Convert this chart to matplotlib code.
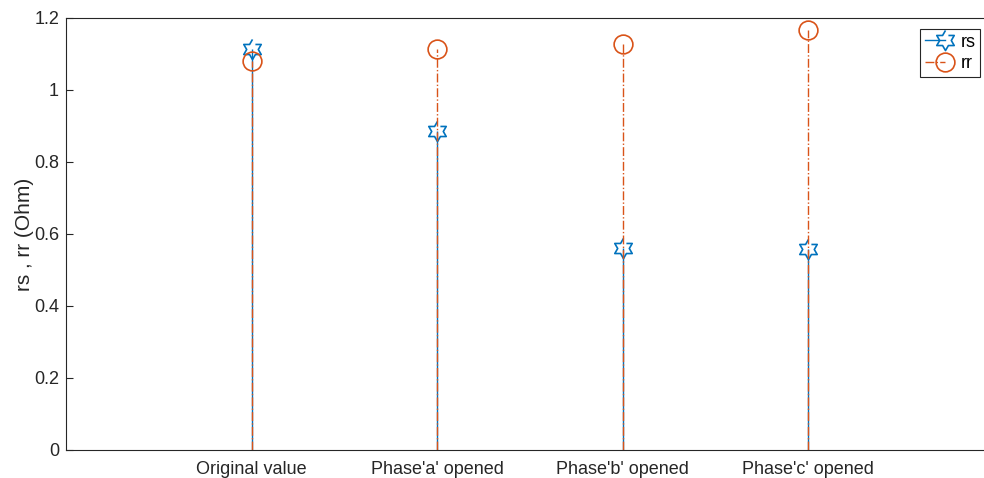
import numpy as np
import matplotlib
matplotlib.use('Agg')
import matplotlib.pyplot as plt
from matplotlib.legend_handler import HandlerLine2D

cases = ["Original value", "Phase'a' opened", "Phase'b' opened", "Phase'c' opened"]
rs = [1.115, 0.885, 0.562, 0.559]
rr = [1.081, 1.114, 1.128, 1.167]

plt.rcParams['font.family'] = ['Liberation Sans', 'DejaVu Sans']

# six-pointed star (hexagram) marker like matlab's 'h'
ang = np.pi / 2 + np.arange(12) * np.pi / 6
rad = np.where(np.arange(12) % 2 == 0, 1.0, 1 / np.sqrt(3))
hexagram = list(zip(rad * np.cos(ang), rad * np.sin(ang)))

blue = '#0072BD'
orange = '#D95319'


class EndMarker(HandlerLine2D):
    # legend line stops at the marker, as matlab draws it
    def create_artists(self, *args, **kwargs):
        arts = super().create_artists(*args, **kwargs)
        for a in arts:
            xd = np.asarray(a.get_xdata(), float)
            if len(xd) == 3:
                a.set_xdata([xd[0], xd[2], xd[2]])
        return arts


fig = plt.figure(figsize=(9.84, 4.78), dpi=100)
ax = fig.add_axes([66 / 984, 1 - 450 / 478, 927.5 / 984, 432 / 478])

x = np.arange(1, len(cases) + 1)

ax.vlines(x, 0, rs, colors=blue, lw=1.0, linestyles='-')
ax.plot(x, rs, ls='none', marker=hexagram, ms=14.5, mfc='none', mec=blue, mew=1.2)
ax.vlines(x, 0, rr, colors=orange, lw=1.0, linestyles='-.')
ax.plot(x, rr, ls='none', marker='o', ms=13.5, mfc='none', mec=orange, mew=1.2)

# legend proxies
h1, = ax.plot([], [], color=blue, lw=1.0, marker=hexagram, ms=14.5, mfc='none', mec=blue, mew=1.2)
h2, = ax.plot([], [], color=orange, lw=1.0, ls='-.', marker='o', ms=13.5, mfc='none', mec=orange, mew=1.2)
leg = ax.legend([h1, h2], ['rs', 'rr'], loc='upper left', bbox_to_anchor=(920 / 984, 1 - 29 / 478),
                bbox_transform=fig.transFigure, fontsize=13, handlelength=1.15, numpoints=1,
                handletextpad=0.85, borderpad=0.25, labelspacing=0.25, borderaxespad=0,
                fancybox=False, framealpha=1,
                handler_map={h1: EndMarker(), h2: EndMarker()})
leg.get_frame().set_edgecolor('#262626')
leg.get_frame().set_linewidth(0.8)

ax.set_xlim(0, 5)
ax.set_ylim(0, 1.2)
ax.set_xticks(x)
ax.set_xticklabels(cases)
ax.set_yticks([0, 0.2, 0.4, 0.6, 0.8, 1.0, 1.2])
ax.set_yticklabels(['0', '0.2', '0.4', '0.6', '0.8', '1', '1.2'])
ax.tick_params(direction='in', length=5, width=0.8, labelsize=13, colors='#262626',
               top=True, right=True, pad=5)
ax.tick_params(axis='x', length=0, pad=8)
for s in ax.spines.values():
    s.set_color('#262626')
    s.set_linewidth(0.8)
ax.set_ylabel('rs , rr (Ohm)', fontsize=15, color='#262626', labelpad=0)

fig.savefig('out.png', dpi=100)
